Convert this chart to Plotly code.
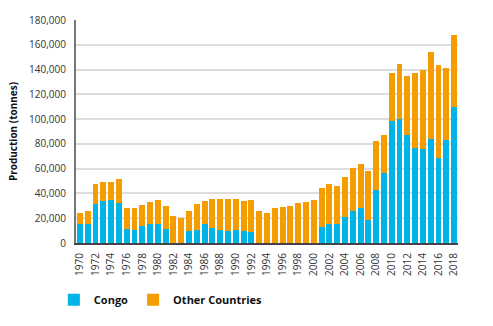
import plotly.graph_objects as go

years = list(range(1970, 2019))
totals = [24100, 25700, 47800, 49300, 49300, 51700, 28100, 28100, 30400, 32800,
          34400, 29700, 21800, 20200, 25700, 31200, 33600, 35900, 35900, 35200,
          35200, 33600, 34400, 25700, 24100, 28100, 28900, 29700, 32000, 32800,
          34400, 44600, 47800, 46200, 53300, 60400, 63500, 58000, 82400, 87100,
          137500, 144600, 135100, 137500, 139900, 154000, 143800, 141400, 168200]
congo = [15000, 15700, 31200, 33600, 34400, 32300, 11500, 10800, 13900, 15000,
         15000, 11500, 0, 0, 10000, 10800, 15500, 12300, 10800, 10000,
         10800, 10000, 9200, 0, 0, 0, 0, 0, 0, 0,
         0, 13100, 15500, 15500, 21000, 25700, 28100, 18600, 43000, 56400,
         98100, 99700, 87100, 76900, 76100, 84000, 69000, 83200, 109900]
other = [t - c for t, c in zip(totals, congo)]

BLUE = "#00B4EA"
ORANGE = "#F49C00"
FONT = "Open Sans"

fig = go.Figure()
fig.add_trace(go.Bar(x=years, y=congo, name="Congo", marker=dict(color=BLUE, line=dict(width=0))))
fig.add_trace(go.Bar(x=years, y=other, name="Other Countries", marker=dict(color=ORANGE, line=dict(width=0))))

fig.update_layout(
    barmode="stack",
    bargap=0.24,
    width=493, height=326,
    margin=dict(l=71, r=35, t=14, b=83),
    plot_bgcolor="white", paper_bgcolor="white",
    font=dict(family=FONT, size=10, color="#222"),
    showlegend=True,
    legend=dict(orientation="h", x=-0.058, xanchor="left", y=-0.255, yanchor="middle",
                font=dict(family=FONT, size=11, color="#111", weight="bold"),
                itemwidth=30, traceorder="normal", tracegroupgap=0),
)
fig.update_xaxes(
    range=[1969.5, 2018.5], tickmode="linear", tick0=1970, dtick=2,
    tickangle=-90, showgrid=False, showline=True, linecolor="#444", linewidth=2,
    ticks="", tickfont=dict(size=10, color="#333"), ticklabelstandoff=4,
)
fig.update_yaxes(
    range=[0, 180000], tickmode="linear", tick0=0, dtick=20000, tickformat=",d",
    showgrid=True, gridcolor="#DDDDDD", gridwidth=1.5,
    showline=True, linecolor="#777", linewidth=2, zeroline=False,
    ticks="", ticklabelstandoff=6, tickfont=dict(size=10, color="#333"),
    title=dict(text="Production (tonnes)", font=dict(size=10, color="#111", weight="bold"), standoff=10),
)

fig.write_html("out.html")
